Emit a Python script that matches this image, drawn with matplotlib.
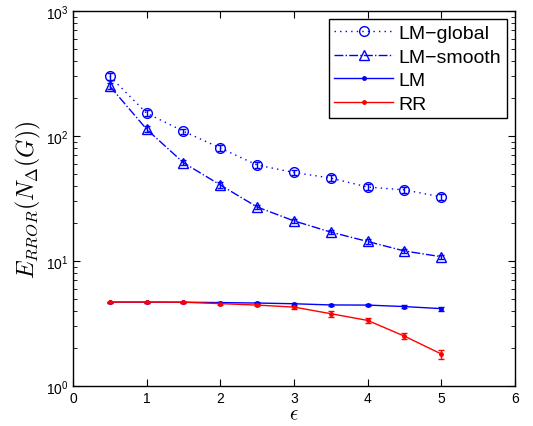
import matplotlib.pyplot as plt
from matplotlib.lines import Line2D
from matplotlib.ticker import LogLocator, NullFormatter

eps = [0.5, 1.0, 1.5, 2.0, 2.5, 3.0, 3.5, 4.0, 4.5, 5.0]

lm_global = [300, 152, 109, 80, 58.5, 51, 46, 39, 37, 32.5]
lm_global_err = [18, 8, 5, 4, 3, 2.5, 2.3, 2, 2, 1.8]

lm_smooth = [250, 113, 61, 40.5, 27, 20.9, 17, 14.3, 12.0, 10.8]
lm_smooth_err = [14, 6, 3, 2, 1.2, 0.9, 0.7, 0.6, 0.5, 0.45]

lm = [4.68, 4.68, 4.67, 4.64, 4.6, 4.54, 4.44, 4.43, 4.31, 4.15]
lm_err = [0.05, 0.05, 0.05, 0.05, 0.06, 0.07, 0.08, 0.08, 0.1, 0.15]

rr = [4.68, 4.68, 4.67, 4.55, 4.43, 4.27, 3.78, 3.34, 2.5, 1.8]
rr_err = [0.05, 0.05, 0.06, 0.08, 0.1, 0.12, 0.2, 0.18, 0.15, 0.15]

names = ['LM\u2212global', 'LM\u2212smooth', 'LM', 'RR']

plt.rcParams['font.family'] = ['Liberation Sans', 'DejaVu Sans']
plt.rcParams['mathtext.fontset'] = 'cm'

fig = plt.figure(figsize=(5.33, 4.27), dpi=100)
ax = fig.add_axes([0.137, 0.094, 0.829, 0.878])

styles = [
    dict(color='blue', ls=(0, (1, 3)), marker='o', mfc='none', ms=7),
    dict(color='blue', ls='-.', marker='^', mfc='none', ms=7),
    dict(color='blue', ls='-', marker='.', ms=5),
    dict(color='red', ls='-', marker='.', ms=5),
]
series = [(lm_global, lm_global_err), (lm_smooth, lm_smooth_err), (lm, lm_err), (rr, rr_err)]

handles = []
for (y, e), st, name in zip(series, styles, names):
    ax.errorbar(eps, y, yerr=e, lw=1, mew=1, capsize=2.5, **st)
    handles.append(Line2D([], [], lw=1, mew=1, **st))

ax.set_yscale('log')
ax.set_xlim(0, 6)
ax.set_ylim(1, 1000)
ax.set_xticks([0, 1, 2, 3, 4, 5, 6])
ax.yaxis.set_minor_locator(LogLocator(base=10, subs=range(2, 10)))
ax.yaxis.set_minor_formatter(NullFormatter())
ax.tick_params(which='both', direction='in', top=True, right=True, labelsize=10)
ax.tick_params(which='major', length=5)
ax.tick_params(which='minor', length=3)
for s in ax.spines.values():
    s.set_linewidth(1)

ax.set_xlabel(r'$\epsilon$', fontsize=15, labelpad=0)
ax.set_ylabel(r'$E_{RROR}(N_\Delta(G))$', fontsize=17, labelpad=2)

leg = ax.legend(handles, names, loc='upper right', fontsize=14, fancybox=False,
                edgecolor='black', framealpha=1, handlelength=3.0, borderpad=0.3,
                labelspacing=0.3, handletextpad=0.3, borderaxespad=0.4)
leg.get_frame().set_linewidth(1)

fig.savefig('out.png', dpi=100)
